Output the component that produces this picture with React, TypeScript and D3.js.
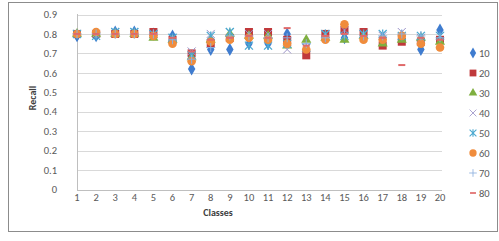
import React from "react";
import * as d3 from "d3";

const classes = d3.range(1, 21).map(String);
const yTicks = [0, 0.1, 0.2, 0.3, 0.4, 0.5, 0.6, 0.7, 0.8, 0.9];
const seriesNames = ["10", "20", "30", "40", "50", "60", "70", "80"];

const s10 = [0.79, 0.79, 0.81, 0.81, 0.80, 0.79, 0.62, 0.72, 0.72, 0.75, 0.75, 0.80, 0.71, 0.79, 0.78, 0.79, 0.78, 0.79, 0.72, 0.82];
const s20 = [0.80, 0.80, 0.80, 0.80, 0.81, 0.77, 0.70, 0.75, 0.78, 0.81, 0.81, 0.77, 0.69, 0.80, 0.82, 0.81, 0.74, 0.76, 0.76, 0.77];
const s30 = [0.80, 0.80, 0.80, 0.80, 0.78, 0.77, 0.68, 0.77, 0.80, 0.79, 0.79, 0.74, 0.77, 0.78, 0.77, 0.79, 0.75, 0.77, 0.78, 0.76];
const s40 = [0.80, 0.80, 0.81, 0.81, 0.80, 0.78, 0.71, 0.80, 0.81, 0.80, 0.80, 0.72, 0.73, 0.80, 0.82, 0.80, 0.79, 0.81, 0.78, 0.79];
const s50 = [0.80, 0.79, 0.81, 0.81, 0.80, 0.78, 0.69, 0.79, 0.81, 0.74, 0.74, 0.75, 0.73, 0.80, 0.79, 0.80, 0.80, 0.79, 0.79, 0.79];
const s60 = [0.80, 0.81, 0.80, 0.80, 0.79, 0.75, 0.66, 0.76, 0.77, 0.78, 0.77, 0.75, 0.72, 0.77, 0.85, 0.77, 0.77, 0.79, 0.75, 0.73];
const s70 = [0.80, 0.80, 0.80, 0.80, 0.80, 0.77, 0.67, 0.73, 0.79, 0.79, 0.78, 0.78, 0.75, 0.78, 0.80, 0.79, 0.79, 0.80, 0.79, 0.78];
const s80 = [0.80, 0.80, 0.80, 0.80, 0.80, 0.78, 0.71, 0.77, 0.78, 0.79, 0.78, 0.83, 0.74, 0.79, 0.80, 0.79, 0.78, 0.64, 0.78, 0.77];

const seriesData = [s10, s20, s30, s40, s50, s60, s70, s80];
const colors = ["#3F7CCF", "#C0393B", "#7FAF3F", "#9C93C9", "#4BA9D0", "#F08C3C", "#8EB0DE", "#E06A6A"];
const shapes = ["diamond", "square", "triangle", "x", "asterisk", "circle", "plus", "dash"];

function Marker({ shape, color, x, y, s = 1 }: { shape: string; color: string; x: number; y: number; s?: number }) {
  const t = `translate(${x},${y}) scale(${s})`;
  switch (shape) {
    case "diamond":
      return <path transform={t} d={d3.symbol(d3.symbolDiamond, 48)()!} fill={color} />;
    case "square":
      return <rect transform={t} x={-4} y={-4} width={8} height={8} fill={color} />;
    case "triangle":
      return <path transform={t} d={d3.symbol(d3.symbolTriangle, 44)()!} fill={color} />;
    case "x":
      return <path transform={t} d="M-4,-4L4,4M-4,4L4,-4" stroke={color} strokeWidth={1} />;
    case "asterisk":
      return <path transform={t} d="M-4,-4L4,4M-4,4L4,-4M0,-4.5L0,4.5" stroke={color} strokeWidth={1.3} />;
    case "circle":
      return <circle transform={t} r={4.3} fill={color} />;
    case "plus":
      return <path transform={t} d="M-4.5,0L4.5,0M0,-4.5L0,4.5" stroke={color} strokeWidth={1} />;
    case "dash":
      return <path transform={t} d="M-3.5,0L3.5,0" stroke={color} strokeWidth={2} />;
    default:
      return null;
  }
}

export default function App() {
  const W = 499, H = 241;
  const x = d3.scalePoint<string>().domain(classes).range([77, 440]);
  const y = d3.scaleLinear().domain([0, 0.9]).range([189.5, 14.5]);
  const font = "Carlito, 'Liberation Sans', Arial, sans-serif";
  return (
    <svg width={W} height={H} style={{ position: "absolute", left: 0, top: 0 }} fontFamily={font}>
      <rect x={0} y={0} width={W} height={H} fill="#fff" />
      <rect x={8.5} y={2.5} width={489} height={229} fill="#fff" stroke="#8c8c8c" strokeWidth={1} />
      {yTicks.map((t) => (
        <g key={t}>
          <line x1={77} x2={442} y1={Math.round(y(t)) + 0.5} y2={Math.round(y(t)) + 0.5} stroke={t === 0 ? "#bfbfbf" : "#d9d9d9"} />
          <text x={57} y={y(t)} dy="0.35em" textAnchor="end" fontSize={10.5} fill="#595959">
            {t === 0 ? "0" : d3.format(".1f")(t)}
          </text>
        </g>
      ))}
      <line x1={77.5} x2={77.5} y1={14} y2={190} stroke="#bfbfbf" />
      {classes.map((c) => (
        <text key={c} x={x(c)!} y={197} dy="0.35em" textAnchor="middle" fontSize={10.5} fill="#595959">
          {c}
        </text>
      ))}
      <text x={218} y={216} textAnchor="middle" fontSize={10} fontWeight="bold" fill="#404040">Classes</text>
      <text transform={`translate(36,98) rotate(-90)`} textAnchor="middle" fontSize={10} fontWeight="bold" fill="#404040">Recall</text>
      {seriesData.map((arr, si) => (
        <g key={si}>
          {arr.map((v, i) => (
            <Marker key={i} shape={shapes[si]} color={colors[si]} x={x(classes[i])!} y={y(v)} />
          ))}
        </g>
      ))}
      {seriesNames.map((n, i) => {
        const ly = 53 + i * 20;
        return (
          <g key={n}>
            <Marker shape={shapes[i]} color={colors[i]} x={473} y={ly} s={0.85} />
            <text x={479} y={ly} dy="0.35em" fontSize={10.5} fill="#595959">{n}</text>
          </g>
        );
      })}
    </svg>
  );
}
